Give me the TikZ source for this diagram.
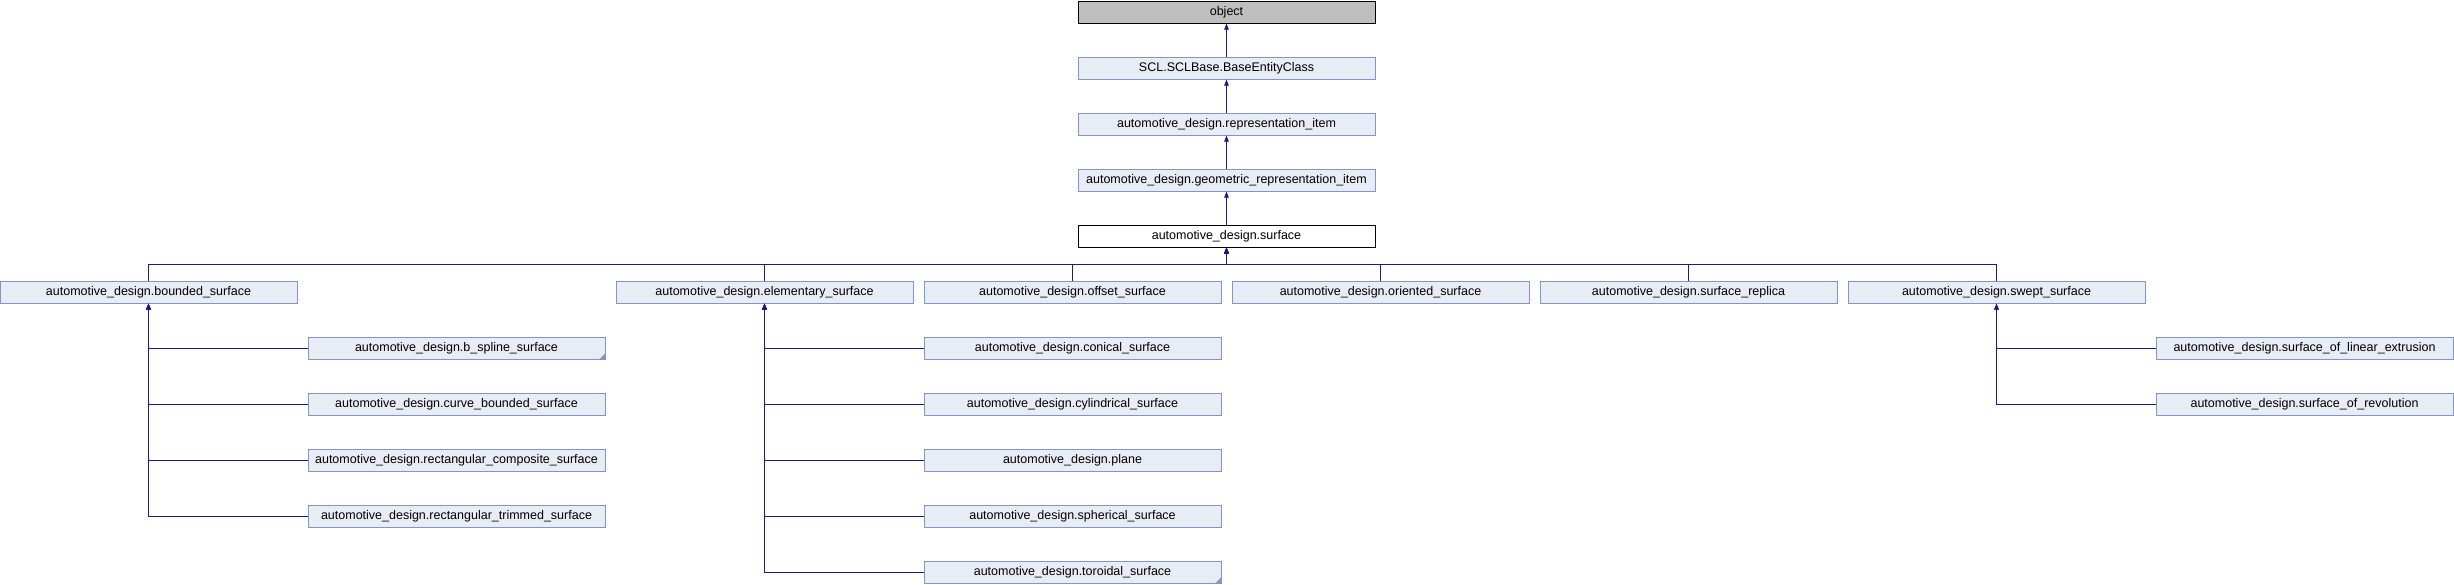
\documentclass[tikz,border=0pt]{standalone}
\usepackage{fontspec}
\setmainfont{Liberation Sans}
\usetikzlibrary{arrows.meta}
\definecolor{boxfill}{RGB}{232,236,245}
\definecolor{boxline}{RGB}{127,150,203}
\definecolor{edgecol}{RGB}{25,25,140}
\definecolor{rootfill}{RGB}{191,191,191}
\tikzset{
  cls/.style={draw=boxline, fill=boxfill, line width=1pt, minimum width=297pt, minimum height=22.5pt,
    inner sep=0pt, outer sep=0pt, font=\fontsize{12.5}{14}\selectfont},
  rootcls/.style={cls, draw=black, fill=rootfill},
  curcls/.style={cls, draw=black, fill=white},
  link/.style={draw=edgecol, line width=1pt, -{Triangle[length=6pt,width=4.5pt]}},
  fold/.style={fill=boxline}
}
\begin{document}
\begin{tikzpicture}[x=1pt,y=-1pt]
\useasboundingbox (0,0) rectangle (2454,584);
% top chain
\node[rootcls] (obj) at (1226.5,12.3) {object};
\node[cls] (base) at (1226.5,68.3) {SCL.SCLBase.BaseEntityClass};
\node[cls] (repr) at (1226.5,124.3) {automotive\_design.representation\_item};
\node[cls] (geom) at (1226.5,180.3) {automotive\_design.geometric\_representation\_item};
\node[curcls] (surf) at (1226.5,236.3) {automotive\_design.surface};
% second row
\node[cls] (bounded) at (148.5,292.3) {automotive\_design.bounded\_surface};
\node[cls] (elem) at (764.5,292.3) {automotive\_design.elementary\_surface};
\node[cls] (offset) at (1072.5,292.3) {automotive\_design.offset\_surface};
\node[cls] (orient) at (1380.5,292.3) {automotive\_design.oriented\_surface};
\node[cls] (replica) at (1688.5,292.3) {automotive\_design.surface\_replica};
\node[cls] (swept) at (1996.5,292.3) {automotive\_design.swept\_surface};
% bounded children
\node[cls] (bsp) at (456.5,348.3) {automotive\_design.b\_spline\_surface};
\node[cls] (cbs) at (456.5,404.3) {automotive\_design.curve\_bounded\_surface};
\node[cls] (rcs) at (456.5,460.3) {automotive\_design.rectangular\_composite\_surface};
\node[cls] (rts) at (456.5,516.3) {automotive\_design.rectangular\_trimmed\_surface};
% elementary children
\node[cls] (con) at (1072.5,348.3) {automotive\_design.conical\_surface};
\node[cls] (cyl) at (1072.5,404.3) {automotive\_design.cylindrical\_surface};
\node[cls] (pla) at (1072.5,460.3) {automotive\_design.plane};
\node[cls] (sph) at (1072.5,516.3) {automotive\_design.spherical\_surface};
\node[cls] (tor) at (1072.5,572.3) {automotive\_design.toroidal\_surface};
% swept children
\node[cls] (lin) at (2304.5,348.3) {automotive\_design.surface\_of\_linear\_extrusion};
\node[cls] (rev) at (2304.5,404.3) {automotive\_design.surface\_of\_revolution};
% fold corners
\fill[fold] (bsp.south east) -- ++(-6,0) -- ++(6,-6) -- cycle;
\fill[fold] (tor.south east) -- ++(-6,0) -- ++(6,-6) -- cycle;
% top chain edges
\draw[link] (base.north) -- (obj.south);
\draw[link] (repr.north) -- (base.south);
\draw[link] (geom.north) -- (repr.south);
\draw[link] (surf.north) -- (geom.south);
% bus
\coordinate (bus) at (1226.5,264.5);
\foreach \c in {bounded,elem,offset,orient,replica,swept}{
  \draw[link] (\c.north) |- (bus) -- (surf.south);
}
% children edges
\foreach \c in {bsp,cbs,rcs,rts}{\draw[link] (\c.west) -| (bounded.south);}
\foreach \c in {con,cyl,pla,sph,tor}{\draw[link] (\c.west) -| (elem.south);}
\foreach \c in {lin,rev}{\draw[link] (\c.west) -| (swept.south);}
\end{tikzpicture}
\end{document}
